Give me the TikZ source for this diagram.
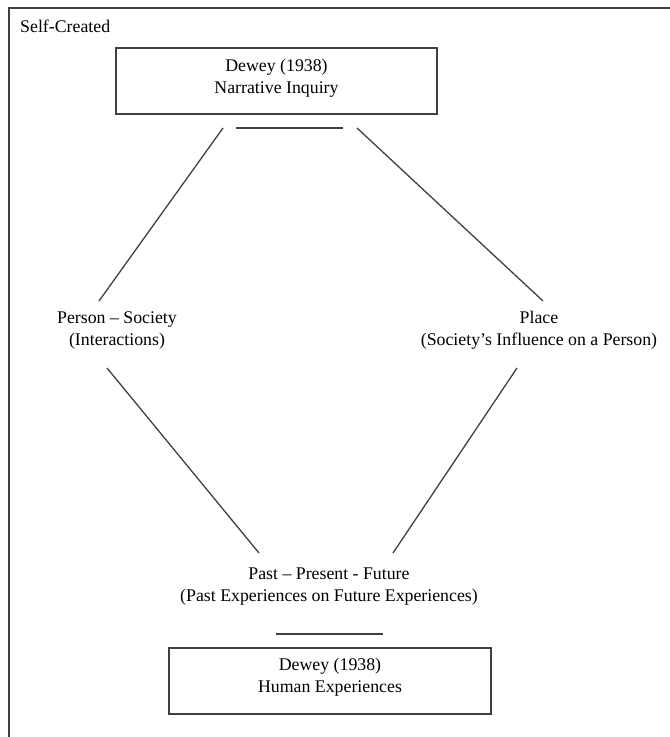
\documentclass[tikz,border=0pt]{standalone}
\usepackage{fontspec}
\setmainfont{Liberation Serif}
\definecolor{linegray}{HTML}{404040}
\tikzset{
  lbl/.style={align=center, inner sep=0pt, font=\fontsize{17.8}{22}\selectfont, text=black},
  boxnode/.style={draw=linegray, line width=1.3pt, inner sep=0pt},
  conn/.style={draw=linegray, line width=1.3pt},
}
\begin{document}
\begin{tikzpicture}[x=1pt,y=-1pt]
\useasboundingbox (0,0) rectangle (670,737);
% partial frame (top and left edges)
\draw[conn] (9,737) -- (9,8) -- (670,8);
\node[lbl, anchor=west] (self) at (20,26) {Self-Created};
% top box
\node[boxnode, minimum width=321pt, minimum height=66pt] (topbox) at (276.5,81) {};
\node[lbl] (toptext) at (276.5,78) {Dewey (1938)\\Narrative Inquiry};
% bottom box
\node[boxnode, minimum width=322pt, minimum height=66pt] (botbox) at (330,681) {};
\node[lbl] (bottext) at (330,677) {Dewey (1938)\\Human Experiences};
% labels
\node[lbl] (person) at (117,330) {Person -- Society\\(Interactions)};
\node[lbl] (place) at (539,330) {Place\\(Society's Influence on a Person)};
\node[lbl] (time) at (329,587) {Past -- Present - Future\\(Past Experiences on Future Experiences)};
% line endpoints
\coordinate (tl1) at (236,128); \coordinate (tl2) at (343,128);
\coordinate (bl1) at (276,634); \coordinate (bl2) at (383,634);
\coordinate (a1) at (223,128); \coordinate (a2) at (99,301);
\coordinate (b1) at (357,128); \coordinate (b2) at (543,301);
\coordinate (c1) at (107,368); \coordinate (c2) at (259,553);
\coordinate (d1) at (517,368); \coordinate (d2) at (393,553);
\draw[conn] (tl1) -- (tl2);
\draw[conn] (bl1) -- (bl2);
\draw[conn] (a1) -- (a2);
\draw[conn] (b1) -- (b2);
\draw[conn] (c1) -- (c2);
\draw[conn] (d1) -- (d2);
\end{tikzpicture}
\end{document}
